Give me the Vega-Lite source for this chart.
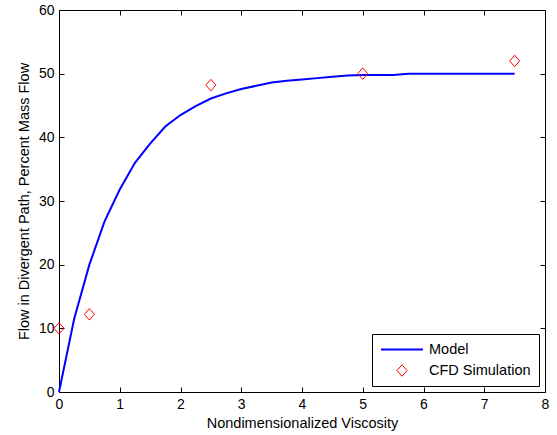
{
  "$schema": "https://vega.github.io/schema/vega-lite/v6.json",
  "width": 486,
  "height": 382,
  "autosize": "none",
  "padding": {"left": 59, "top": 10, "right": 12, "bottom": 43},
  "background": "white",
  "config": {
    "view": {"stroke": "black", "strokeWidth": 1},
    "font": "Liberation Sans",
    "axis": {
      "domainColor": "black",
      "tickColor": "black",
      "labelColor": "black",
      "titleColor": "black",
      "labelFont": "Liberation Sans",
      "titleFont": "Liberation Sans",
      "labelFontSize": 14,
      "titleFontSize": 14.5,
      "titleFontWeight": "normal",
      "grid": false,
      "tickSize": -5
    }
  },
  "datasets": {
    "model": [
      {"viscosity": 0, "flow": 0, "series": "Model"},
      {"viscosity": 0.25, "flow": 11.5, "series": "Model"},
      {"viscosity": 0.5, "flow": 20, "series": "Model"},
      {"viscosity": 0.75, "flow": 26.8, "series": "Model"},
      {"viscosity": 1.0, "flow": 31.8, "series": "Model"},
      {"viscosity": 1.25, "flow": 36, "series": "Model"},
      {"viscosity": 1.5, "flow": 39, "series": "Model"},
      {"viscosity": 1.75, "flow": 41.7, "series": "Model"},
      {"viscosity": 2.0, "flow": 43.5, "series": "Model"},
      {"viscosity": 2.25, "flow": 44.9, "series": "Model"},
      {"viscosity": 2.5, "flow": 46.1, "series": "Model"},
      {"viscosity": 2.75, "flow": 46.9, "series": "Model"},
      {"viscosity": 3.0, "flow": 47.6, "series": "Model"},
      {"viscosity": 3.25, "flow": 48.1, "series": "Model"},
      {"viscosity": 3.5, "flow": 48.6, "series": "Model"},
      {"viscosity": 3.75, "flow": 48.9, "series": "Model"},
      {"viscosity": 4.0, "flow": 49.1, "series": "Model"},
      {"viscosity": 4.25, "flow": 49.3, "series": "Model"},
      {"viscosity": 4.5, "flow": 49.5, "series": "Model"},
      {"viscosity": 4.75, "flow": 49.7, "series": "Model"},
      {"viscosity": 5.0, "flow": 49.8, "series": "Model"},
      {"viscosity": 5.25, "flow": 49.8, "series": "Model"},
      {"viscosity": 5.5, "flow": 49.8, "series": "Model"},
      {"viscosity": 5.75, "flow": 50, "series": "Model"},
      {"viscosity": 6.0, "flow": 50, "series": "Model"},
      {"viscosity": 6.5, "flow": 50, "series": "Model"},
      {"viscosity": 7.0, "flow": 50, "series": "Model"},
      {"viscosity": 7.5, "flow": 50, "series": "Model"}
    ],
    "cfd": [
      {"viscosity": 0, "flow": 10, "series": "CFD Simulation"},
      {"viscosity": 0.5, "flow": 12.2, "series": "CFD Simulation"},
      {"viscosity": 2.5, "flow": 48.2, "series": "CFD Simulation"},
      {"viscosity": 5.0, "flow": 50, "series": "CFD Simulation"},
      {"viscosity": 7.5, "flow": 52, "series": "CFD Simulation"}
    ]
  },
  "layer": [
    {
      "data": {"name": "model"},
      "mark": {"type": "line", "strokeWidth": 2, "opacity": 1},
      "encoding": {
        "x": {
          "field": "viscosity", "type": "quantitative",
          "scale": {"domain": [0, 8], "nice": false, "zero": false},
          "axis": {"orient": "bottom", "values": [0,1,2,3,4,5,6,7,8], "title": "Nondimensionalized Viscosity", "labelPadding": 10, "titlePadding": 5, "labelFlush": false}
        },
        "y": {
          "field": "flow", "type": "quantitative",
          "scale": {"domain": [0, 60], "nice": false, "zero": false},
          "axis": {"orient": "left", "values": [0,10,20,30,40,50,60], "title": "Flow in Divergent Path, Percent Mass Flow", "labelPadding": 10, "titlePadding": 7, "labelFlush": false}
        },
        "color": {
          "field": "series", "type": "nominal",
          "scale": {"domain": ["Model", "CFD Simulation"], "range": ["#0000ff", "#ff0000"]},
          "legend": {
            "orient": "bottom-right", "offset": 6, "title": null,
            "strokeColor": "black", "fillColor": "white", "padding": 8,
            "labelFont": "Liberation Sans", "labelFontSize": 14.5, "labelColor": "black",
            "labelOffset": 5, "rowPadding": 5, "clipHeight": 15, "symbolOpacity": 1
          }
        }
      }
    },
    {
      "data": {"name": "cfd"},
      "mark": {"type": "point", "filled": false, "opacity": 1},
      "encoding": {
        "x": {
          "field": "viscosity", "type": "quantitative",
          "axis": {"orient": "top", "values": [0,1,2,3,4,5,6,7,8], "labels": false, "title": null, "domain": false}
        },
        "y": {
          "field": "flow", "type": "quantitative",
          "axis": {"orient": "right", "values": [0,10,20,30,40,50,60], "labels": false, "title": null, "domain": false}
        },
        "color": {"field": "series", "type": "nominal"},
        "shape": {
          "field": "series", "type": "nominal",
          "scale": {"domain": ["Model", "CFD Simulation"], "range": ["M-1,0H1", "M0,-1.15L1,0L0,1.15L-1,0Z"]}
        },
        "size": {
          "field": "series", "type": "nominal",
          "scale": {"type": "point", "padding": 0, "domain": ["Model", "CFD Simulation"], "range": [1764, 100]}
        },
        "strokeWidth": {
          "field": "series", "type": "nominal",
          "scale": {"type": "point", "padding": 0, "domain": ["Model", "CFD Simulation"], "range": [2, 1]}
        }
      }
    }
  ],
  "resolve": {"axis": {"x": "independent", "y": "independent"}}
}
